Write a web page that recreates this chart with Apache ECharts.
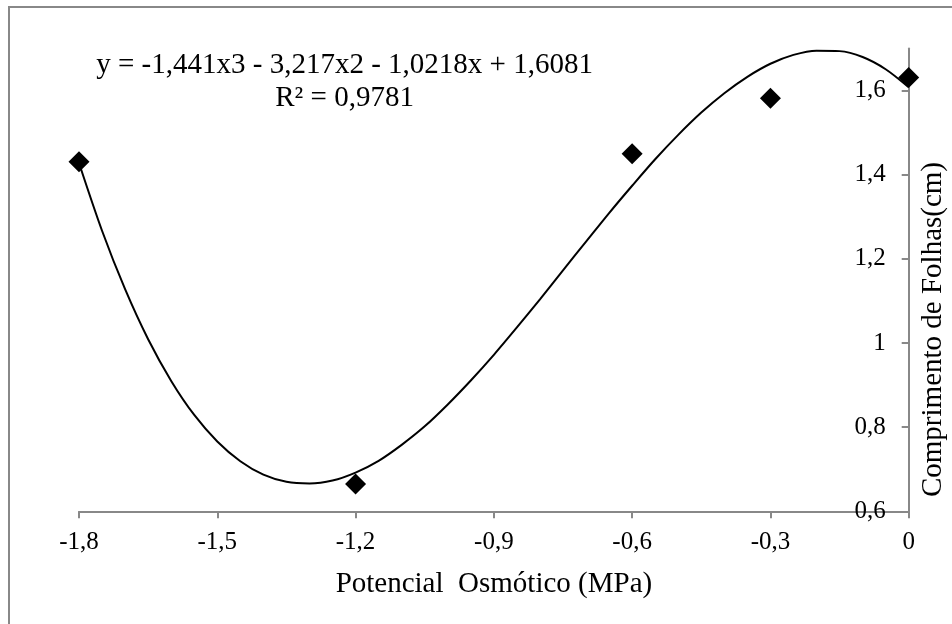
<!DOCTYPE html>
<html>
<head>
<meta charset="utf-8">
<script src="https://cdn.jsdelivr.net/npm/echarts@6/dist/echarts.min.js"></script>
<style>
html,body{margin:0;padding:0;background:#fff;}
#chart{width:952px;height:624px;}
</style>
</head>
<body>
<div id="chart"></div>
<script>
// Observed data (Potencial Osmótico, Comprimento de Folhas)
const pointX = [-1.8, -1.2, -0.6, -0.3, 0];
const pointY = [1.431, 0.665, 1.450, 1.582, 1.631];

// Trendline (3rd-order polynomial)
const curveX = [-1.80,-1.75,-1.70,-1.65,-1.60,-1.55,-1.50,-1.45,-1.40,-1.35,-1.30,-1.25,-1.20,-1.15,-1.10,-1.05,-1.00,-0.95,-0.90,-0.85,-0.80,-0.75,-0.70,-0.65,-0.60,-0.55,-0.50,-0.45,-0.40,-0.35,-0.30,-0.25,-0.20,-0.15,-0.10,-0.05,0];
const curveY = [1.428,1.267,1.128,1.009,0.910,0.829,0.766,0.719,0.687,0.670,0.666,0.673,0.692,0.720,0.758,0.802,0.854,0.911,0.972,1.037,1.104,1.173,1.241,1.309,1.374,1.437,1.495,1.548,1.594,1.633,1.664,1.685,1.695,1.694,1.680,1.651,1.608];

// Axis ticks
const xTicks = [-1.8,-1.5,-1.2,-0.9,-0.6,-0.3,0];
const yTicks = [0.6,0.8,1.0,1.2,1.4,1.6];

const equationText = 'y = -1,441x3 - 3,217x2 - 1,0218x + 1,6081';
const r2Text = 'R² = 0,9781';
const xTitle = 'Potencial  Osmótico (MPa)';
const yTitle = 'Comprimento de Folhas(cm)';

const FONT = '"Liberation Serif", "Times New Roman", serif';
const AXIS_COLOR = '#888888';
const fmt = v => String(+(+v).toFixed(1)).replace('.', ',');

const chart = echarts.init(document.getElementById('chart'));
chart.setOption({
  backgroundColor: '#ffffff',
  animation: false,
  grid: { left: 79, right: 43.3, top: 48.6, bottom: 112.7, containLabel: false },
  xAxis: {
    type: 'value', min: -1.8, max: 0,
    axisLine: { show: true, onZero: false, lineStyle: { color: AXIS_COLOR, width: 2 } },
    axisTick: { show: true, length: 7, customValues: xTicks, lineStyle: { color: AXIS_COLOR, width: 2 } },
    axisLabel: { customValues: xTicks, formatter: fmt, color: '#000', fontFamily: FONT, fontSize: 25, margin: 19 },
    splitLine: { show: false }
  },
  yAxis: {
    type: 'value', min: 0.6, max: 1.7, position: 'right',
    axisLine: { show: true, onZero: false, lineStyle: { color: AXIS_COLOR, width: 2 } },
    axisTick: { show: true, inside: true, length: 7, customValues: yTicks, lineStyle: { color: AXIS_COLOR, width: 2 } },
    axisLabel: { inside: true, customValues: yTicks, formatter: fmt, color: '#000', fontFamily: FONT, fontSize: 25, margin: 23 },
    splitLine: { show: false }
  },
  series: [
    {
      type: 'line',
      data: curveX.map((x, i) => [x, curveY[i]]),
      smooth: 0.3,
      showSymbol: false,
      clip: false,
      lineStyle: { color: '#000', width: 2 },
      z: 2
    },
    {
      type: 'scatter',
      data: pointX.map((x, i) => [x, pointY[i]]),
      symbol: 'diamond',
      symbolSize: 21,
      itemStyle: { color: '#000', opacity: 1 },
      z: 3
    }
  ],
  graphic: [
    {
      type: 'rect', silent: true, z: -1,
      shape: { x: 9, y: 7, width: 1200, height: 900 },
      style: { fill: 'none', stroke: AXIS_COLOR, lineWidth: 2 }
    },
    {
      type: 'text', x: 344.6, y: 81.9,
      style: { text: equationText + '\n' + r2Text, fill: '#000', font: '29px ' + FONT, textAlign: 'center', textVerticalAlign: 'middle', lineHeight: 33.3 }
    },
    {
      type: 'text', x: 493.9, y: 584.5,
      style: { text: xTitle, fill: '#000', font: '29px ' + FONT, textAlign: 'center', textVerticalAlign: 'middle' }
    },
    {
      type: 'text', x: 933, y: 329.5, rotation: Math.PI / 2,
      style: { text: yTitle, fill: '#000', font: '29px ' + FONT, textAlign: 'center', textVerticalAlign: 'middle' }
    }
  ]
});
</script>
</body>
</html>
